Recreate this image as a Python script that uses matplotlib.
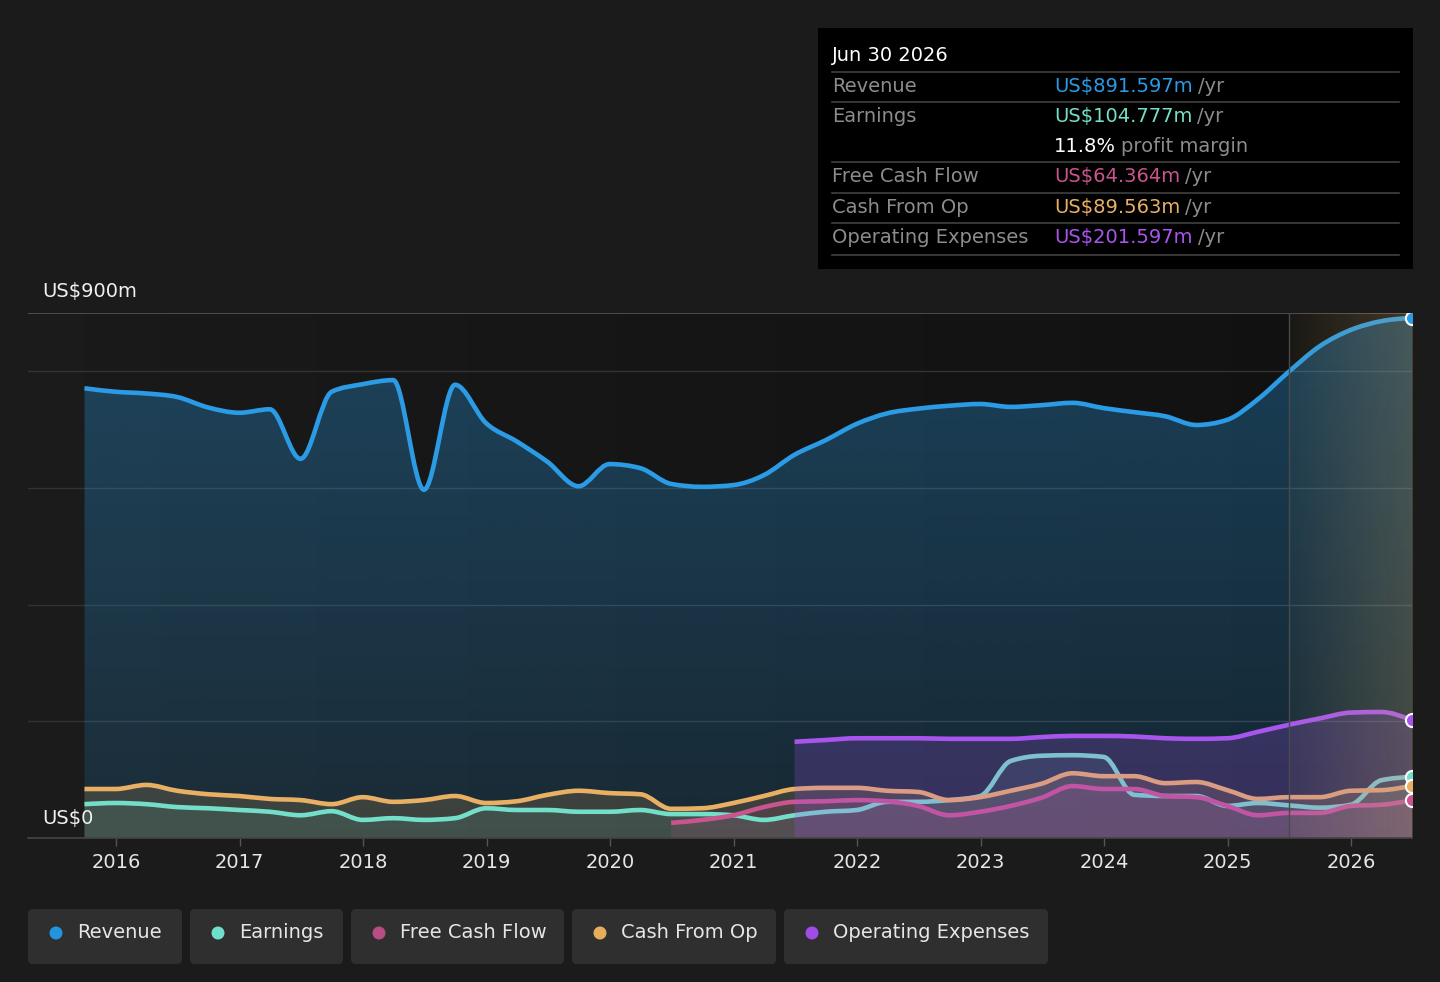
import matplotlib
matplotlib.use('Agg')
import matplotlib.pyplot as plt
import matplotlib.dates as mdates
from matplotlib.patches import Rectangle, FancyBboxPatch, Circle, PathPatch
from matplotlib.path import Path
from matplotlib.colors import to_rgb
import numpy as np
import pandas as pd

plt.rcParams['font.family'] = ['DejaVu Sans']

# quarterly data points (trailing twelve months, US$m)
quarters = pd.date_range('2015-09-30', '2026-06-30', freq='QE')
fcf_quarters = quarters[quarters >= '2020-06-30']
opex_quarters = quarters[quarters >= '2021-06-30']
forecast_start = pd.Timestamp('2025-06-30')

revenue = [771, 765, 762, 756, 738, 729, 735, 650, 765, 778,
           785, 597, 777, 711, 680, 645, 603, 641, 634, 607,
           602, 605, 622, 657, 682, 710, 728, 736, 741, 744,
           739, 742, 746, 737, 730, 723, 708, 717, 752, 799,
           843, 871, 886, 891.597]
earnings = [58, 60, 58, 53, 51, 48, 45, 39, 46, 31,
            34, 31, 34, 51, 48, 48, 45, 45, 48, 41,
            41, 39, 31, 39, 45, 48, 62, 62, 65, 72,
            132, 141, 142, 139, 74, 72, 72, 55, 60, 56,
            52, 57, 99, 104.777]
cash_from_op = [84, 84, 91, 81, 75, 72, 67, 65, 58, 70,
                62, 65, 72, 60, 63, 74, 81, 77, 75, 50,
                51, 60, 72, 84, 86, 86, 81, 79, 65, 70,
                81, 93, 111, 106, 106, 94, 96, 82, 67, 70,
                70, 81, 82, 89.563]
free_cash_flow = [26, 31, 39, 53, 62, 63, 65, 63, 55, 39,
                  45, 55, 69, 89, 84, 84, 72, 70, 55, 39,
                  43, 43, 55, 57, 64.364]
operating_expenses = [165, 168, 171, 171, 171, 170, 170, 170, 173, 175,
                      175, 174, 171, 170, 171, 182, 194, 205, 215, 216,
                      201.597]

years = list(range(2016, 2027))

C_REV = '#2a9be4'
C_EARN = '#74dfc8'
C_FCF = '#c9558e'
C_CFO = '#e9b064'
C_OPEX = '#a855ee'
BG = '#1b1b1b'


def monotone_path(dates, values, close=False):
    # smooth monotone-x cubic curve through the data points
    x = mdates.date2num(dates)
    y = np.asarray(values, dtype=float)
    n = len(x)
    h = np.diff(x)
    s = np.diff(y) / h
    t = np.zeros(n)
    for i in range(1, n - 1):
        p = (s[i - 1] * h[i] + s[i] * h[i - 1]) / (h[i - 1] + h[i])
        t[i] = (np.sign(s[i - 1]) + np.sign(s[i])) * min(abs(s[i - 1]), abs(s[i]), 0.5 * abs(p))
    t[0] = (3 * s[0] - t[1]) / 2
    t[-1] = (3 * s[-1] - t[-2]) / 2
    verts = [(x[0], y[0])]
    codes = [Path.MOVETO]
    for i in range(n - 1):
        dx = h[i] / 3
        verts += [(x[i] + dx, y[i] + dx * t[i]), (x[i + 1] - dx, y[i + 1] - dx * t[i + 1]), (x[i + 1], y[i + 1])]
        codes += [Path.CURVE4] * 3
    if close:
        verts += [(x[-1], 0), (x[0], 0), (x[0], y[0])]
        codes += [Path.LINETO, Path.LINETO, Path.CLOSEPOLY]
    return Path(verts, codes)


def draw_line(ax, dates, values, color, z):
    ax.add_patch(PathPatch(monotone_path(dates, values), facecolor='none', edgecolor=color,
                           lw=3.3, zorder=z, joinstyle='round', capstyle='butt'))


def draw_fill(ax, dates, values, color, alpha, z):
    ax.add_patch(PathPatch(monotone_path(dates, values, close=True), facecolor=color,
                           edgecolor='none', alpha=alpha, zorder=z))


fig = plt.figure(figsize=(14.4, 9.82), dpi=100, facecolor=BG)
ax = fig.add_axes([28 / 1440, 1 - 838 / 982, 1384 / 1440, 525 / 982])
ax.set_facecolor(BG)

x0 = mdates.date2num(pd.Timestamp('2015-04-16'))
x1 = mdates.date2num(pd.Timestamp('2026-06-30'))
xd0 = mdates.date2num(quarters[0])
xf = mdates.date2num(forecast_start)

# darker plot background over the data range
bg = np.zeros((1, 256, 4))
bg[..., :3] = np.linspace(0.1, 0.066, 256)[None, :, None]
bg[..., 3] = 1
ax.imshow(bg, extent=[xd0, x1, 0, 900], aspect='auto', zorder=0.2)

# grid
for v in [200, 400, 600, 800]:
    ax.axhline(v, color='#333333', lw=1, zorder=0.5)
ax.axhline(900, color='#555555', lw=1.2, zorder=0.5)

# revenue: gradient fill clipped to the area under the curve
rev_area = monotone_path(quarters, revenue, close=True)
grad = np.zeros((256, 1, 4))
grad[..., :3] = to_rgb(C_REV)
grad[..., 3] = np.linspace(0.15, 0.34, 256)[:, None]
im = ax.imshow(grad, extent=[xd0, x1, 0, 900], origin='lower', aspect='auto', zorder=1)
im.set_clip_path(rev_area, transform=ax.transData)
draw_line(ax, quarters, revenue, C_REV, 2)

# smaller series
draw_fill(ax, quarters, cash_from_op, C_CFO, 0.17, 3)
draw_fill(ax, quarters, earnings, C_EARN, 0.10, 3)
draw_fill(ax, fcf_quarters, free_cash_flow, C_FCF, 0.14, 3)
draw_line(ax, quarters, earnings, C_EARN, 4)
draw_line(ax, fcf_quarters, free_cash_flow, C_FCF, 4)
draw_line(ax, quarters, cash_from_op, C_CFO, 4)

draw_fill(ax, opex_quarters, operating_expenses, C_OPEX, 0.22, 5)
draw_line(ax, opex_quarters, operating_expenses, C_OPEX, 6)

# forecast shading
fc = np.zeros((1, 256, 4))
fc[..., :3] = (0.82, 0.68, 0.42)
fc[..., 3] = np.linspace(0.05, 0.25, 256)[None, :]
ax.imshow(fc, extent=[xf, x1, 0, 900], aspect='auto', zorder=7)
ax.axvline(forecast_start, color='#4a4a4a', lw=1, zorder=7)

# end markers
for series, dates, col in [(revenue, quarters, C_REV), (operating_expenses, opex_quarters, C_OPEX),
                           (earnings, quarters, C_EARN), (cash_from_op, quarters, C_CFO),
                           (free_cash_flow, fcf_quarters, C_FCF)]:
    ax.plot(dates[-1], series[-1], 'o', ms=9.5, mfc=col, mec='white', mew=1.5, zorder=8)

FS = 14

ax.set_xlim(x0, x1)
ax.set_ylim(0, 900)
ax.set_xticks([mdates.date2num(pd.Timestamp(f'{y}-01-01')) for y in years])
ax.set_xticklabels([str(y) for y in years])
ax.set_yticks([])
ax.tick_params(axis='x', colors='#555555', length=6, width=1, pad=5, labelsize=FS, labelcolor='#e6e6e6')
for s in ['top', 'left', 'right']:
    ax.spines[s].set_visible(False)
ax.spines['bottom'].set_color('#444444')
ax.spines['bottom'].set_linewidth(1.2)
ax.spines['bottom'].set_zorder(9)

ax.annotate('US$900m', xy=(0.0101, 900), xycoords=('axes fraction', 'data'),
            xytext=(0, 9), textcoords='offset points', color='#f0f0f0', fontsize=FS, va='bottom')
ax.annotate('US$0', xy=(0.0101, 0), xycoords=('axes fraction', 'data'),
            xytext=(0, 7), textcoords='offset points', color='#f0f0f0', fontsize=FS, va='bottom', zorder=10)

# overlay in pixel coords for tooltip and legend
oax = fig.add_axes([0, 0, 1, 1])
oax.set_xlim(0, 1440)
oax.set_ylim(982, 0)
oax.axis('off')

GREY = '#8c8c8c'
oax.add_patch(Rectangle((818, 28), 595, 241, facecolor='#000000', edgecolor='none'))
oax.text(832, 55, 'Jun 30 2026', color='white', fontsize=FS, va='center')
for yy in [72, 102, 162, 193, 223, 255]:
    oax.plot([832, 1399], [yy, yy], color='#404040', lw=1.2)

rows = [('Revenue', 'US$891.597m', C_REV, 86),
        ('Earnings', 'US$104.777m', C_EARN, 116),
        ('Free Cash Flow', 'US$64.364m', C_FCF, 176),
        ('Cash From Op', 'US$89.563m', C_CFO, 207),
        ('Operating Expenses', 'US$201.597m', C_OPEX, 237)]
for label, val, col, yy in rows:
    oax.text(832, yy, label, color=GREY, fontsize=FS, va='center')
    t = oax.text(1054, yy, val, color=col, fontsize=FS, va='center')
    oax.annotate('/yr', xy=(1, 0.5), xycoords=t, xytext=(5, 0), textcoords='offset pixels',
                 color=GREY, fontsize=FS, va='center', ha='left')
t = oax.text(1054, 146, '11.8%', color='white', fontsize=FS, va='center')
oax.annotate('profit margin', xy=(1, 0.5), xycoords=t, xytext=(5, 0), textcoords='offset pixels',
             color=GREY, fontsize=FS, va='center', ha='left')

# legend chips
legend_items = [('Revenue', '#2394df', 28, 182), ('Earnings', '#6fe0cc', 190, 343),
                ('Free Cash Flow', '#b84d85', 351, 564), ('Cash From Op', '#e8ad5c', 572, 776),
                ('Operating Expenses', '#a04ce6', 784, 1048)]
for name, col, left, right in legend_items:
    oax.add_patch(FancyBboxPatch((left, 909), right - left, 55,
                                 boxstyle='round,pad=0,rounding_size=5',
                                 facecolor='#2f2f2f', edgecolor='none'))
    oax.add_patch(Circle((left + 28, 933), 6.5, facecolor=col, edgecolor='none'))
    oax.text(left + 49, 933, name, color='#e6e6e6', fontsize=FS, va='center')

fig.savefig('out.png', dpi=100, facecolor=BG)
